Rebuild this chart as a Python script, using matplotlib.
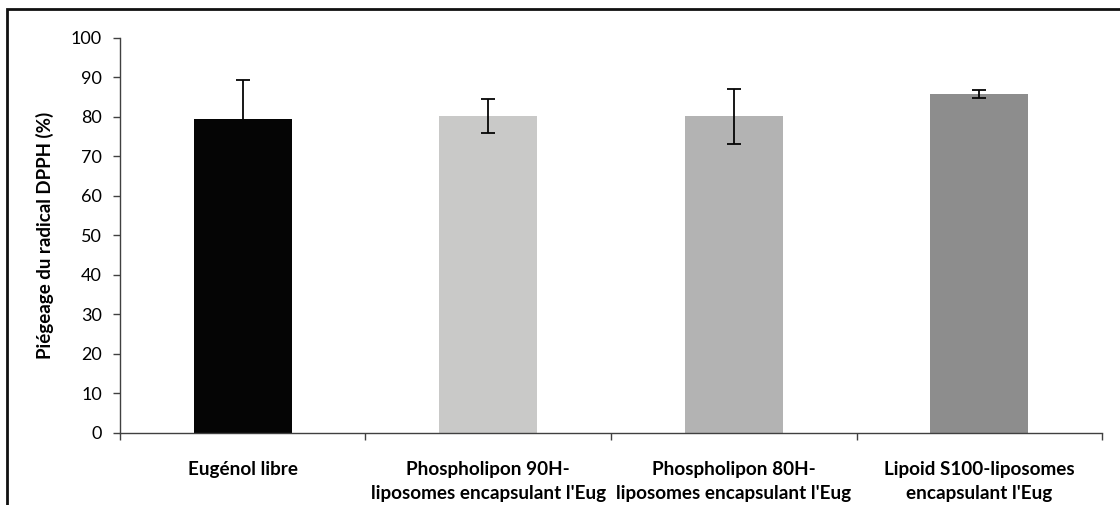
import matplotlib
matplotlib.use("Agg")
import matplotlib.pyplot as plt
from matplotlib.patches import Rectangle

plt.rcParams['font.family'] = ['Lato', 'DejaVu Sans']

# data
categories = ["Eugénol libre",
              "Phospholipon 90H-\nliposomes encapsulant l'Eug",
              "Phospholipon 80H-\nliposomes encapsulant l'Eug",
              "Lipoid S100-liposomes\nencapsulant l'Eug"]
values = [79.4, 80.3, 80.2, 85.8]
errors = [10.0, 4.3, 7.0, 1.0]
colors = ["#050505", "#c9c9c8", "#b3b3b3", "#8d8d8d"]

fig = plt.figure(figsize=(11.2, 5.05), dpi=100)
ax = fig.add_axes([0.107, 0.1426, 0.877, 0.7822])

x = range(len(categories))
ax.bar(x, values, width=0.4, color=colors, yerr=errors,
       error_kw=dict(ecolor="#050505", elinewidth=1.3, capsize=5, capthick=1.3))

ax.set_xlim(-0.5, len(categories) - 0.5)
ax.set_ylim(0, 100)
ax.set_yticks(range(0, 101, 10))
ax.set_xticks(x)
ax.set_xticklabels(categories, fontsize=13.6, fontweight='bold', linespacing=1.5)
ax.tick_params(axis='x', length=0, pad=20)
ax.set_xticks([i + 0.5 for i in range(-1, len(categories))], minor=True)
ax.tick_params(axis='x', which='minor', length=5, width=1, color="#404040")
ax.tick_params(axis='y', labelsize=13, length=5, width=1, color="#404040", pad=8)
ax.set_ylabel("Piégeage du radical DPPH (%)", fontsize=13.5, fontweight='bold', labelpad=12)

for s in ['top', 'right']:
    ax.spines[s].set_visible(False)
for s in ['left', 'bottom']:
    ax.spines[s].set_color("#404040")
    ax.spines[s].set_linewidth(1)

# outer chart frame (cut off at right and bottom like the original)
fig.patches.append(Rectangle((7 / 1120, -0.1), 1.2, 1 - 9 / 505 + 0.1,
                             transform=fig.transFigure, fill=False,
                             edgecolor="#111111", linewidth=2))

fig.savefig("out.png", dpi=100)
